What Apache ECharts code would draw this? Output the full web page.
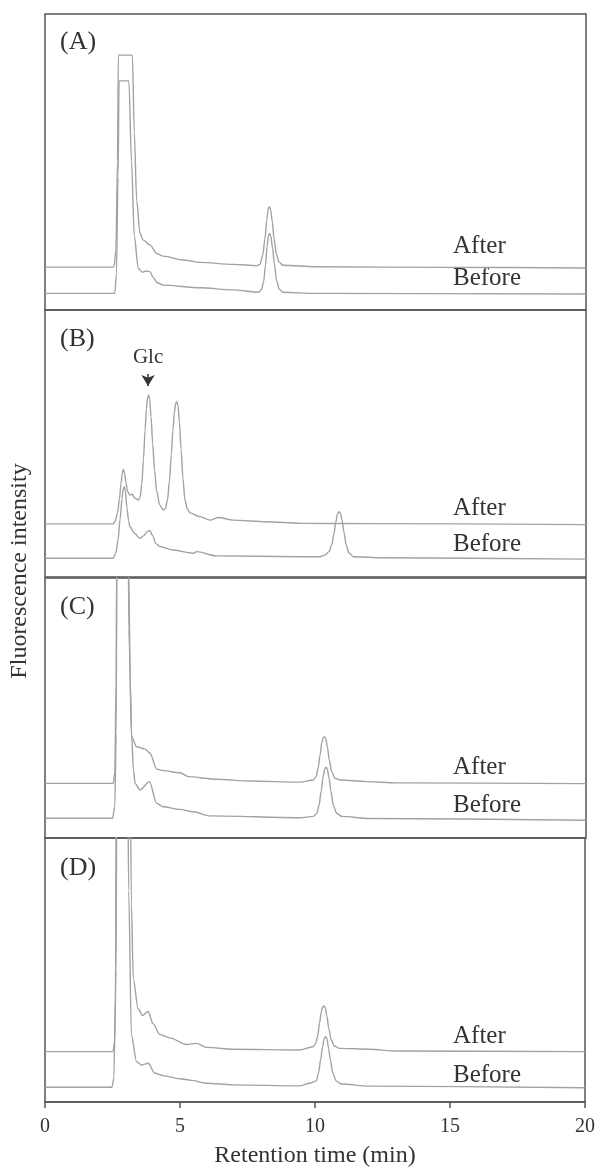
<!DOCTYPE html>
<html>
<head>
<meta charset="utf-8">
<script src="https://cdn.jsdelivr.net/npm/echarts@6/dist/echarts.min.js"></script>
<style>html,body{margin:0;padding:0;background:#fff}#c{width:598px;height:1169px}</style>
</head>
<body>
<div id="c"></div>
<script>
// x tick labels
var xTicks = [0, 5, 10, 15, 20];
var panelNames = ['(A)', '(B)', '(C)', '(D)'];
var traceNames = ['After', 'Before'];

// Panel A (relative intensity, % of panel height)
var aAfter = [[0,14.5],[2.50,14.5],[2.55,14.6],[2.62,20],[2.68,50],[2.71,86.1],[3.23,86.1],[3.30,60],[3.39,37],[3.51,26],[3.63,23.6],[3.88,22.0],[4.13,19.1],[4.37,18.2],[5.11,16.9],[5.73,16.1],[6.95,15.4],[7.85,15.0],[7.95,15.5],[8.05,18.5],[8.13,24],[8.20,30.5],[8.25,34],[8.29,34.9],[8.34,34],[8.40,30],[8.47,24],[8.55,19],[8.65,16.2],[8.80,15.1],[10,14.6],[15,14.4],[20,14.2]];
var aBefore = [[0,5.6],[2.55,5.6],[2.58,5.7],[2.64,12],[2.70,45],[2.74,77.4],[3.10,77.4],[3.20,50],[3.30,25],[3.45,14.0],[3.60,12.8],[3.75,13.2],[3.88,12.9],[4.00,11.0],[4.15,9.2],[4.37,8.4],[5.73,7.5],[6.95,6.8],[7.90,6.0],[8.00,6.8],[8.08,9.5],[8.15,15],[8.21,21.5],[8.26,25],[8.30,25.9],[8.35,25],[8.41,21],[8.48,15.5],[8.56,10],[8.66,7],[8.80,6.0],[10,5.6],[20,5.4]];

// Panel B
var bAfter = [[0,19.9],[2.52,19.9],[2.60,21],[2.68,24],[2.75,29],[2.81,35],[2.86,39],[2.90,40.3],[2.94,39],[2.99,35.5],[3.05,32],[3.14,30.7],[3.22,31.0],[3.32,29.6],[3.45,28.8],[3.52,30],[3.58,35],[3.64,44],[3.70,55],[3.75,63],[3.79,67],[3.83,68.2],[3.87,66.5],[3.92,60],[3.98,50],[4.05,40],[4.13,32],[4.24,27],[4.37,25.1],[4.45,25.6],[4.53,29],[4.60,36],[4.67,46],[4.73,55],[4.78,61.5],[4.83,65],[4.87,65.7],[4.92,64],[4.97,58],[5.03,48],[5.10,37],[5.17,29],[5.26,25.5],[5.36,24.0],[5.73,22.6],[6.10,21.3],[6.41,22.3],[6.95,21.3],[8.2,20.7],[9.43,20.1],[12,20.0],[20,19.6]];
var bBefore = [[0,7.0],[2.52,7.0],[2.62,9],[2.70,14],[2.78,22],[2.85,29.5],[2.89,33],[2.93,33.8],[2.97,32],[3.03,26],[3.09,21],[3.14,18.8],[3.30,16.5],[3.51,14.5],[3.65,15.5],[3.80,17.2],[3.88,17.3],[3.98,15.5],[4.10,12.5],[4.25,11.4],[4.74,10.1],[5.36,9.1],[5.45,8.8],[5.61,9.5],[6.34,7.9],[9.43,7.6],[10.17,7.6],[10.35,8.2],[10.50,9.5],[10.60,12],[10.68,16],[10.75,20.5],[10.81,23.5],[10.87,24.5],[10.92,24],[10.98,21.5],[11.05,17],[11.13,12],[11.24,9],[11.40,7.6],[12.5,7.2],[20,6.7]];

// Panel C
var cAfter = [[0,21.0],[2.52,21.0],[2.58,25],[2.63,60],[2.66,120],[2.87,400],[3.07,150],[3.10,100],[3.15,60],[3.20,39.0],[3.39,35.1],[3.70,34.2],[3.88,32.6],[4.13,26.5],[4.37,25.9],[4.99,25.1],[5.30,23.6],[6.34,22.6],[7.58,21.9],[9.43,21.5],[9.92,22.3],[10.02,23.5],[10.10,27],[10.17,32],[10.23,36.5],[10.28,38.6],[10.33,39.0],[10.38,38.3],[10.44,35],[10.51,30],[10.60,25.5],[10.72,23],[10.91,22.3],[11.89,21.7],[13,21.2],[20,20.9]];
var cBefore = [[0,7.6],[2.50,7.6],[2.58,12],[2.63,40],[2.66,120],[2.87,400],[3.07,130],[3.10,80],[3.20,40],[3.27,26.2],[3.33,21.0],[3.51,18.5],[3.86,21.7],[4.13,13.3],[4.37,12.0],[4.99,11.0],[5.48,10.1],[6.10,8.5],[9.43,7.8],[9.92,8.3],[10.05,9.5],[10.13,12.5],[10.21,18],[10.28,23.5],[10.34,26.5],[10.39,27.2],[10.44,26.5],[10.50,23],[10.57,18],[10.66,12.5],[10.78,9.5],[10.97,8.3],[12,7.5],[20,6.8]];

// Panel D
var dAfter = [[0,19.1],[2.52,19.1],[2.58,23],[2.63,50],[2.66,120],[2.90,400],[3.14,150],[3.20,75],[3.27,46.6],[3.45,35.3],[3.61,32.8],[3.82,34.3],[4.00,29.7],[4.25,25.6],[4.62,24.3],[5.24,21.8],[5.61,22.2],[5.98,20.7],[6.95,20.0],[9.43,19.7],[9.92,20.9],[10.02,22],[10.10,25],[10.17,30],[10.23,34],[10.28,36],[10.33,36.4],[10.38,35.7],[10.44,32.5],[10.51,28],[10.60,23.5],[10.72,21.2],[10.91,20.3],[12.01,20.0],[13,19.3],[20,19.1]];
var dBefore = [[0,5.6],[2.48,5.6],[2.55,9],[2.61,40],[2.64,120],[2.86,400],[3.06,130],[3.10,80],[3.20,25.3],[3.39,15.3],[3.57,14.0],[3.82,14.7],[4.07,10.9],[4.37,10.0],[4.99,8.8],[5.42,8.2],[5.98,7.1],[6.95,6.5],[9.43,6.1],[9.80,7.1],[10.05,8],[10.13,11],[10.21,16],[10.28,21],[10.34,24],[10.39,24.7],[10.44,24],[10.50,20.5],[10.57,16],[10.66,11],[10.78,8],[10.97,6.8],[12,6.0],[20,5.4]];

// Glc annotation (panel B)
var glcTime = 3.81;
var glcArrow = [76, 71.5];

var panels = [
  {after: aAfter, before: aBefore, top: 14, height: 296},
  {after: bAfter, before: bBefore, top: 310, height: 267},
  {after: cAfter, before: cBefore, top: 578, height: 260},
  {after: dAfter, before: dBefore, top: 838, height: 266}
];

var serif = '"Liberation Serif", "DejaVu Serif", serif';
var lineColor = '#a2a2a2';
var textColor = '#333';
var grids = [], xAxes = [], yAxes = [], series = [], graphics = [];

// text positions for trace labels (pixel centers)
var labelY = [[248, 280], [510, 546], [769, 807], [1038, 1077]];
var panelLabelY = [43, 340, 608, 869];

panels.forEach(function (p, i) {
  grids.push({left: 45, right: 12, top: p.top, height: p.height, show: true, borderColor: '#555', borderWidth: 1.5, backgroundColor: 'transparent'});
  var last = i === panels.length - 1;
  xAxes.push({
    type: 'value', gridIndex: i, min: xTicks[0], max: xTicks[xTicks.length - 1], interval: 5,
    axisLine: {show: last, lineStyle: {color: '#555', width: 1.5}},
    axisTick: {show: last, length: 6, lineStyle: {color: '#555', width: 1.5}},
    axisLabel: {show: last, color: textColor, fontFamily: serif, fontSize: 20, margin: 15},
    splitLine: {show: false},
    name: last ? 'Retention time (min)' : '',
    nameLocation: 'middle', nameGap: 42,
    nameTextStyle: {color: textColor, fontFamily: serif, fontSize: 24}
  });
  yAxes.push({type: 'value', gridIndex: i, min: 0, max: 100, show: false});
  [p.after, p.before].forEach(function (d, k) {
    var s = {
      type: 'line', name: traceNames[k] + i, xAxisIndex: i, yAxisIndex: i, data: d,
      showSymbol: false, smooth: 0.3, smoothMonotone: 'x', clip: true,
      lineStyle: {color: lineColor, width: 1.4}, silent: true
    };
    if (i === 1 && k === 0) {
      s.markLine = {
        silent: true, symbol: ['none', 'arrow'], symbolSize: [10, 11],
        lineStyle: {color: '#333', width: 1.5, type: 'solid'},
        label: {show: true, position: 'start', formatter: 'Glc', color: textColor, fontFamily: serif, fontSize: 21, distance: 6},
        data: [[{coord: [glcTime, glcArrow[0]]}, {coord: [glcTime, glcArrow[1]]}]]
      };
    }
    series.push(s);
    graphics.push({type: 'text', left: 453, top: labelY[i][k] - 14, style: {text: traceNames[k], font: '25px ' + serif, fill: textColor}});
  });
  graphics.push({type: 'text', left: 60, top: panelLabelY[i] - 14, style: {text: panelNames[i], font: '26px ' + serif, fill: textColor}});
});

graphics.push({type: 'text', x: 20, y: 571, rotation: Math.PI / 2, style: {text: 'Fluorescence intensity', font: '24px ' + serif, fill: textColor, align: 'center', verticalAlign: 'middle'}});

var chart = echarts.init(document.getElementById('c'));
chart.setOption({
  animation: false,
  backgroundColor: '#fff',
  grid: grids, xAxis: xAxes, yAxis: yAxes, series: series, graphic: graphics
});
</script>
</body>
</html>
